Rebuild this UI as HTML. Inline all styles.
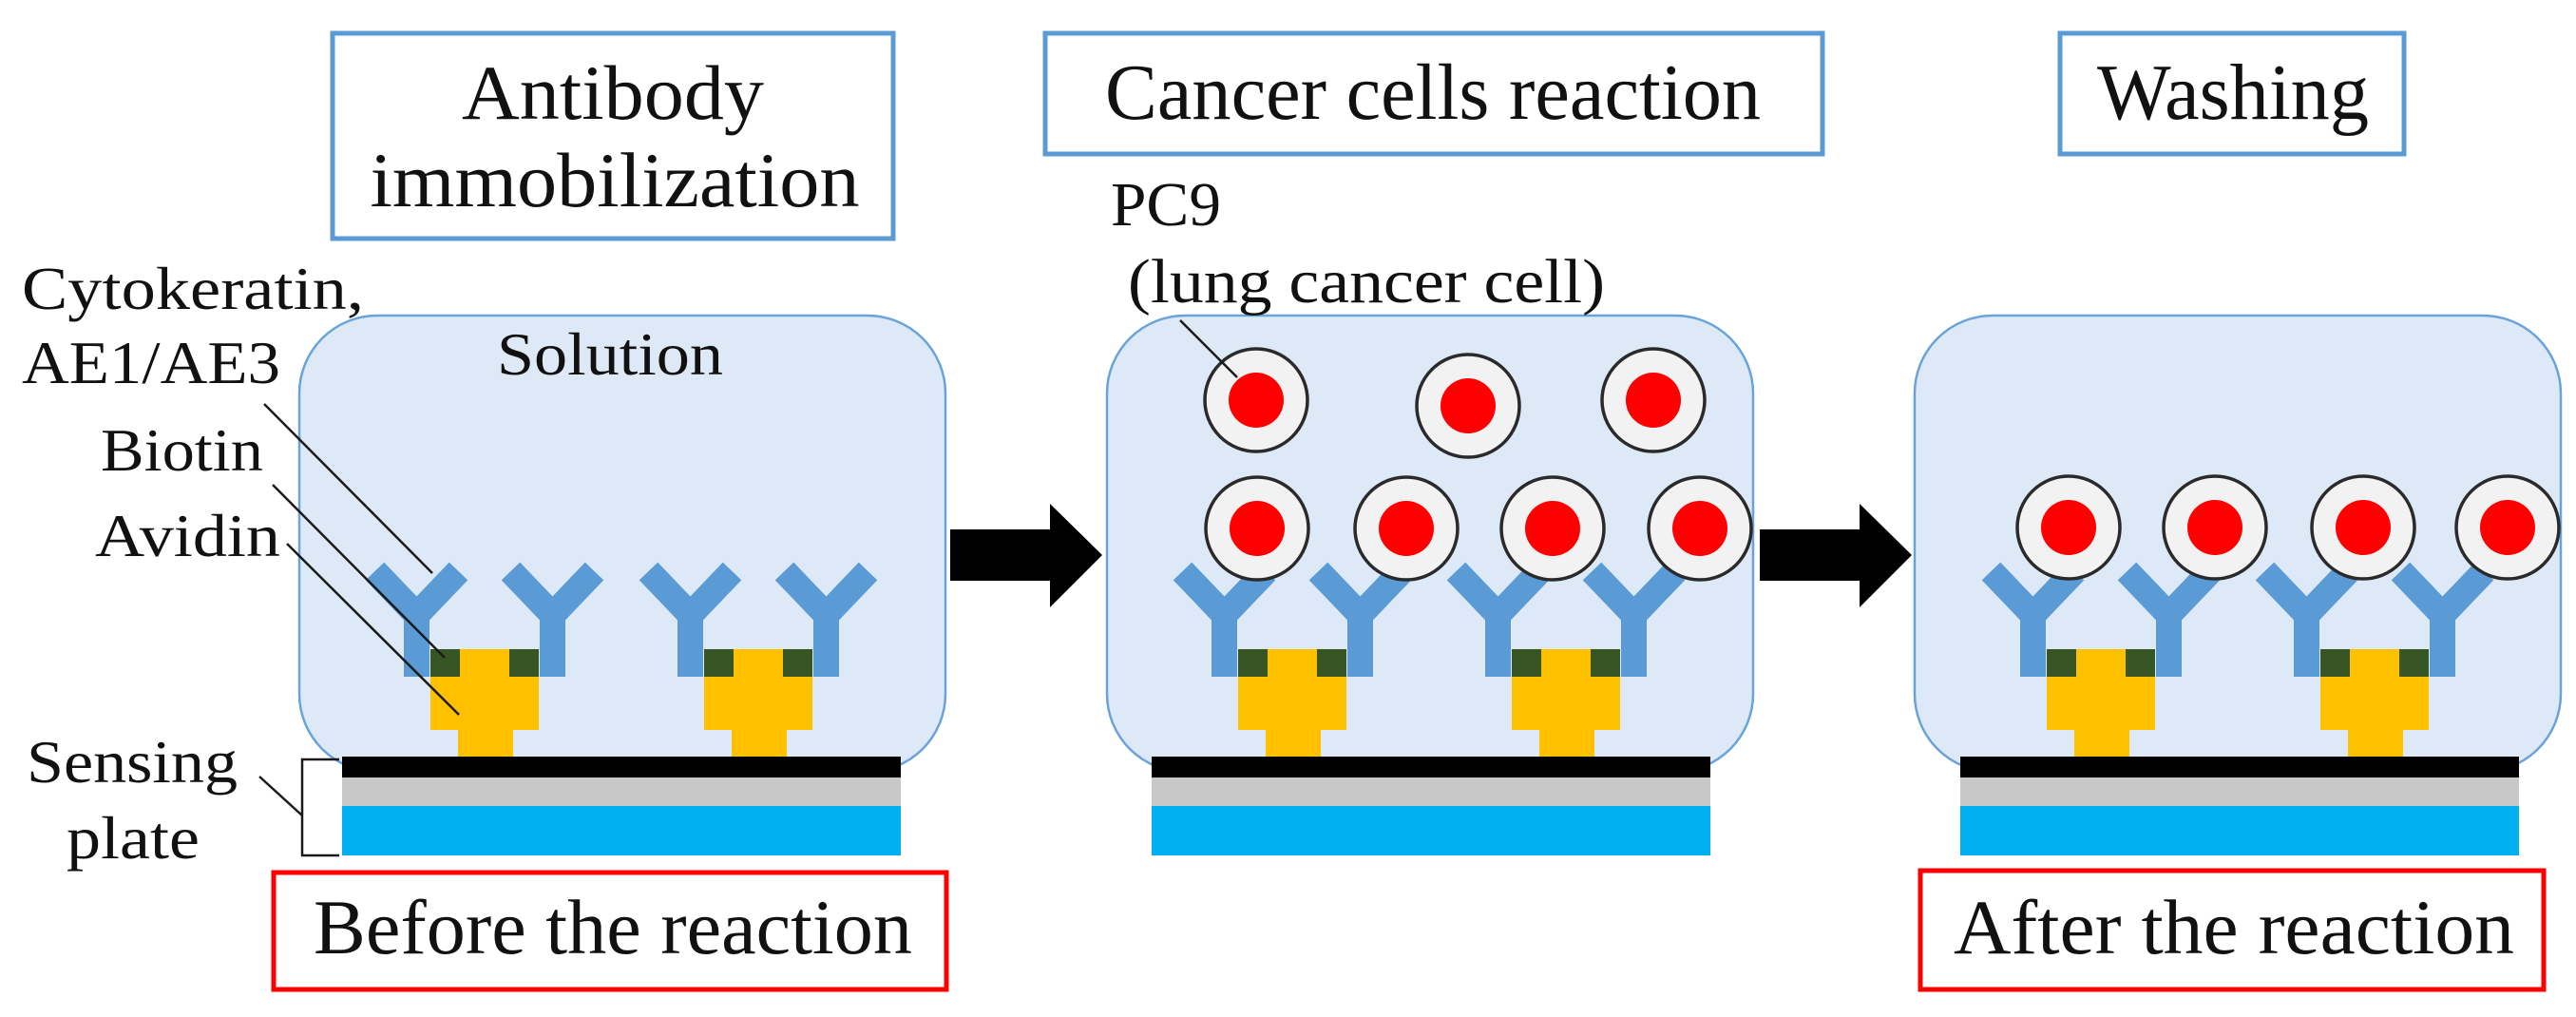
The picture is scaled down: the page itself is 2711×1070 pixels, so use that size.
<!DOCTYPE html>
<html><head><meta charset="utf-8"><style>
html,body{margin:0;padding:0;background:#fff;}
svg{display:block;}
text{font-family:"Liberation Serif","DejaVu Serif",serif;fill:#111;}
</style></head><body>
<svg width="2711" height="1070" viewBox="0 0 2711 1070" xmlns="http://www.w3.org/2000/svg">
<defs>
<g id="unit">
  <g stroke="#5b9bd5" stroke-width="27" fill="none">
    <line x1="-115.5" y1="601" x2="-71.5" y2="647"/>
    <line x1="-27.5" y1="601" x2="-71.5" y2="647"/>
    <line x1="27.5" y1="601" x2="71.5" y2="647"/>
    <line x1="115.5" y1="601" x2="71.5" y2="647"/>
  </g>
  <rect x="-85" y="640" width="27" height="72" fill="#5b9bd5"/>
  <rect x="58" y="640" width="27" height="72" fill="#5b9bd5"/>
  <rect x="-26" y="683" width="52" height="30" fill="#ffc000"/>
  <rect x="-57" y="712" width="114" height="56" fill="#ffc000"/>
  <rect x="-28" y="767" width="58" height="30" fill="#ffc000"/>
  <rect x="-57" y="683" width="31" height="29" fill="#375623"/>
  <rect x="26" y="683" width="31" height="29" fill="#375623"/>
</g>
<g id="plate">
  <rect x="0" y="796" width="588" height="22" fill="#000"/>
  <rect x="0" y="818" width="588" height="30" fill="#c8c8c8"/>
  <rect x="0" y="848" width="588" height="52" fill="#00b0f0"/>
</g>
<g id="cell">
  <circle r="54" fill="#f2f2f2" stroke="#2a2a2a" stroke-width="3.5"/>
  <circle r="29" fill="#ff0000"/>
</g>
<g id="arrow">
  <polygon points="0,557 105,557 105,530 160,584 105,639 105,611 0,611" fill="#000"/>
</g>
</defs>

<!-- Title boxes -->
<rect x="350" y="35" width="590" height="216" fill="#fff" stroke="#5b9bd5" stroke-width="5"/>
<text x="645" y="125" font-size="82" text-anchor="middle" textLength="318" lengthAdjust="spacingAndGlyphs">Antibody</text>
<text x="647" y="217" font-size="82" text-anchor="middle" textLength="515" lengthAdjust="spacingAndGlyphs">immobilization</text>

<rect x="1100" y="35" width="818" height="127" fill="#fff" stroke="#5b9bd5" stroke-width="5"/>
<text x="1163" y="125" font-size="84" textLength="690" lengthAdjust="spacingAndGlyphs">Cancer cells reaction</text>

<rect x="2168" y="35" width="362" height="127" fill="#fff" stroke="#5b9bd5" stroke-width="5"/>
<text x="2207" y="125" font-size="84" textLength="286" lengthAdjust="spacingAndGlyphs">Washing</text>

<!-- Solution boxes -->
<rect x="315" y="332" width="680" height="480" rx="82" fill="#dde9f6" stroke="#6aa3da" stroke-width="2.5"/>
<rect x="1165" y="332" width="680" height="480" rx="82" fill="#dde9f6" stroke="#6aa3da" stroke-width="2.5"/>
<rect x="2015" y="332" width="680" height="480" rx="82" fill="#dde9f6" stroke="#6aa3da" stroke-width="2.5"/>

<text x="523" y="394" font-size="64" textLength="238" lengthAdjust="spacingAndGlyphs">Solution</text>

<!-- Antibody units -->
<use href="#unit" x="510"/>
<use href="#unit" x="798"/>
<use href="#unit" x="1360"/>
<use href="#unit" x="1648"/>
<use href="#unit" x="2211"/>
<use href="#unit" x="2499"/>

<!-- Plates -->
<use href="#plate" x="360"/>
<use href="#plate" x="1212"/>
<use href="#plate" x="2063"/>

<!-- Cells panel 2 -->
<use href="#cell" x="1322" y="421"/>
<use href="#cell" x="1545" y="427"/>
<use href="#cell" x="1740" y="421"/>
<use href="#cell" x="1323" y="556"/>
<use href="#cell" x="1480" y="556"/>
<use href="#cell" x="1634" y="556"/>
<use href="#cell" x="1789" y="556"/>
<!-- Cells panel 3 -->
<use href="#cell" x="2177" y="555"/>
<use href="#cell" x="2331" y="555"/>
<use href="#cell" x="2487" y="555"/>
<use href="#cell" x="2639" y="555"/>

<!-- Arrows -->
<use href="#arrow" x="1000"/>
<use href="#arrow" x="1852"/>

<!-- Left labels -->
<text x="23" y="325" font-size="64" textLength="360" lengthAdjust="spacingAndGlyphs">Cytokeratin,</text>
<text x="23" y="403" font-size="64" textLength="272" lengthAdjust="spacingAndGlyphs">AE1/AE3</text>
<text x="106" y="495" font-size="64" textLength="171" lengthAdjust="spacingAndGlyphs">Biotin</text>
<text x="100" y="585" font-size="64" textLength="195" lengthAdjust="spacingAndGlyphs">Avidin</text>
<text x="28" y="823" font-size="64" textLength="222" lengthAdjust="spacingAndGlyphs">Sensing</text>
<text x="70" y="903" font-size="64" textLength="140" lengthAdjust="spacingAndGlyphs">plate</text>

<g stroke="#1a1a1a" stroke-width="2.5" fill="none">
  <line x1="278" y1="425" x2="455" y2="603"/>
  <line x1="287" y1="510" x2="468" y2="692"/>
  <line x1="302" y1="572" x2="483" y2="752"/>
  <line x1="273" y1="817" x2="318" y2="858"/>
  <polyline points="357,799 318,799 318,900 357,900"/>
  <line x1="1242" y1="337" x2="1302" y2="397"/>
</g>

<text x="1169" y="237" font-size="66" textLength="116" lengthAdjust="spacingAndGlyphs">PC9</text>
<text x="1187" y="318" font-size="66" textLength="502" lengthAdjust="spacingAndGlyphs">(lung  cancer  cell)</text>

<!-- Red boxes -->
<rect x="288" y="918" width="708" height="123" fill="#fff" stroke="#ff0000" stroke-width="5"/>
<text x="330" y="1003" font-size="82" textLength="630" lengthAdjust="spacingAndGlyphs">Before the reaction</text>
<rect x="2021" y="916" width="656" height="125" fill="#fff" stroke="#ff0000" stroke-width="5"/>
<text x="2056" y="1003" font-size="82" textLength="590" lengthAdjust="spacingAndGlyphs">After the reaction</text>
</svg>
</body></html>
